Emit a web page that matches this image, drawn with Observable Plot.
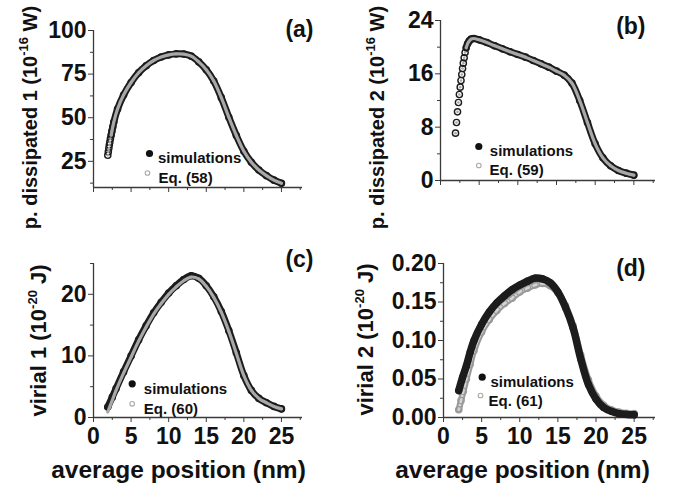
<!DOCTYPE html>
<html><head><meta charset="utf-8">
<script src="https://cdn.jsdelivr.net/npm/d3@7"></script>
<script src="https://cdn.jsdelivr.net/npm/@observablehq/plot@0.6"></script>
<style>
body{margin:0;background:#fff;}
#fig{position:relative;width:679px;height:489px;overflow:hidden;background:#fff;}
#fig svg{position:absolute;}
</style></head><body><div id="fig"></div>
<script>
// ---------- data ----------
const xDomain = [0, 27.8];
const xMajor = [0, 5, 10, 15, 20, 25];
const xMinor = [2.5, 7.5, 12.5, 17.5, 22.5, 27.5];

// (a) power dissipated 1
const aX   = [1.9, 1.97, 2.04, 2.1, 2.17, 2.25, 2.35, 2.45, 2.57, 2.7, 3.2, 4, 5, 6, 7, 8, 9, 10, 11, 12, 13, 14, 15, 16, 17, 18, 19, 20, 21, 22, 23, 24, 25];
const aSim = [28.5, 30.5, 32.5, 34.3, 36, 38, 40, 42.3, 44.8, 47.5, 55, 63, 70.2, 75.8, 79.8, 82.8, 84.8, 86, 86.6, 86.5, 85.3, 82, 77.5, 71, 61.5, 50.3, 39.8, 30.8, 24.5, 20, 16.8, 14.2, 12.4];
const aEq  = [28.5, 30.5, 32.5, 34.3, 36, 38, 40, 42.3, 44.8, 47.5, 55, 63, 70.2, 75.8, 79.8, 82.8, 84.8, 86, 86.6, 86.5, 85.3, 82, 77.5, 71, 61.5, 50.3, 39.8, 30.8, 24.5, 20, 16.8, 14.2, 12.4];

// (b) power dissipated 2
const bX   = [1.94, 2.07, 2.2, 2.32, 2.44, 2.55, 2.65, 2.75, 2.85, 2.95, 3.06, 3.18, 3.32, 3.5, 3.7, 3.95, 4.3, 5, 6, 7, 8, 9, 10, 11, 12, 13, 14, 15, 16, 17, 18, 19, 20, 21, 22, 23, 24, 25];
const bSim = [7.1, 8.7, 10.3, 11.7, 12.9, 14.0, 15.0, 15.9, 16.8, 17.6, 18.4, 19.2, 19.9, 20.5, 20.9, 21.2, 21.3, 21.1, 20.7, 20.2, 19.75, 19.3, 18.9, 18.5, 18.0, 17.5, 17.0, 16.4, 15.8, 14.6, 12.0, 8.7, 5.5, 3.4, 2.2, 1.5, 1.1, 0.8];
const bEq  = [7.1, 8.7, 10.3, 11.7, 12.9, 14.0, 15.0, 15.9, 16.8, 17.6, 18.4, 19.2, 19.9, 20.5, 20.9, 21.2, 21.3, 21.1, 20.7, 20.2, 19.75, 19.3, 18.9, 18.5, 18.0, 17.5, 17.0, 16.4, 15.8, 14.6, 12.0, 8.7, 5.5, 3.4, 2.2, 1.5, 1.1, 0.8];

// (c) virial 1
const cX   = [1.9, 2.5, 3, 4, 5, 6, 7, 8, 9, 10, 11, 12, 13, 14, 15, 16, 17, 18, 19, 20, 21, 22, 23, 24, 25];
const cSim = [1.7, 3.3, 4.7, 7.4, 10.0, 12.6, 14.9, 17.0, 18.7, 20.2, 21.4, 22.4, 23.0, 22.6, 21.4, 19.6, 17.2, 14.1, 10.5, 6.8, 4.4, 3.1, 2.4, 1.8, 1.4];
const cEq  = [0.9, 2.8, 4.4, 7.2, 9.8, 12.4, 14.7, 16.8, 18.5, 20.0, 21.2, 22.2, 22.8, 22.5, 21.3, 19.5, 17.1, 14.0, 10.4, 6.8, 4.4, 3.1, 2.4, 1.8, 1.4];

// (d) virial 2
const dX   = [2.0, 2.5, 3.0, 3.5, 4, 5, 6, 7, 8, 9, 10, 11, 12, 13, 14, 15, 16, 17, 18, 19, 20, 21, 22, 23, 24, 25];
const dSim = [0.035, 0.052, 0.067, 0.085, 0.100, 0.121, 0.137, 0.149, 0.158, 0.166, 0.172, 0.177, 0.181, 0.180, 0.175, 0.163, 0.143, 0.116, 0.076, 0.043, 0.024, 0.013, 0.008, 0.005, 0.004, 0.0035];
const dEqX = [2.0, 2.3, 2.6, 3.0, 3.5, 4, 5, 6, 7, 8, 9, 10, 11, 12, 13, 14, 15, 16, 17, 18, 19, 20, 21, 22, 23, 24, 25];
const dEq  = [0.010, 0.022, 0.034, 0.050, 0.069, 0.087, 0.111, 0.127, 0.139, 0.148, 0.155, 0.163, 0.168, 0.172, 0.174, 0.171, 0.162, 0.145, 0.119, 0.081, 0.049, 0.028, 0.016, 0.010, 0.007, 0.0055, 0.005];

const yLabels = ["p. dissipated 1 (10^-16^ W)", "p. dissipated 2 (10^-16^ W)", "virial 1 (10^-20^ J)", "virial 2 (10^-20^ J)"];
const tags = ["(a)", "(b)", "(c)", "(d)"];
const legendSim = "simulations";
const legendEq = ["Eq. (58)", "Eq. (59)", "Eq. (60)", "Eq. (61)"];
const xTitle = "average position (nm)";

// ---------- rendering ----------
const FONT = "'Liberation Sans', Arial, Helvetica, sans-serif";
const AX = "#3a3a3a";
const DARK = "#1c1c1c";
const GRAY = "#a8a8a8";

const panels = [
  {x: aX, sim: aSim, ex: aX, eq: aEq, yDomain: [10, 100], yTicks: [25, 50, 75, 100], yMinor: [12.5, 37.5, 62.5, 87.5], fmt: d => String(d), xLab: false, lineFrom: 2.3, eqUnder: false, ylSize: 20,
   box: {left: 0, top: 0, width: 340, height: 230, mL: 93, mR: 38, mT: 30, mB: 43},
   off: {yl: [-63, 8.5], tag: [11, 6], d1: [56, 123], t1: [64.5, 122], d2: [54, 142.5], t2: [65, 142]}},
  {x: bX, sim: bSim, ex: bX, eq: bEq, yDomain: [0, 24], yTicks: [0, 8, 16, 24], yMinor: [4, 12, 20], fmt: d => String(d), xLab: false, lineFrom: 3.3, eqUnder: false, ylSize: 20,
   box: {left: 340, top: 0, width: 339, height: 230, mL: 100, mR: 24, mT: 20, mB: 50},
   off: {yl: [-63, 17], tag: [-10, 13], d1: [38.3, 126], t1: [49.3, 125], d2: [38.3, 145], t2: [49, 144]}},
  {x: cX, sim: cSim, ex: cX, eq: cEq, yDomain: [0, 25], yTicks: [0, 10, 20], yMinor: [5, 15, 25], fmt: d => String(d), xLab: true, lineFrom: 0, eqUnder: false, ylSize: 22,
   box: {left: 0, top: 230, width: 340, height: 259, mL: 93, mR: 38, mT: 33, mB: 72},
   off: {yl: [-55, 0], tag: [11, 3], xl: [-19.5, 60], d1: [38.7, 120.3], t1: [50.3, 120], d2: [38.7, 140.3], t2: [50.3, 140]}},
  {x: dX, sim: dSim, ex: dEqX, eq: dEq, yDomain: [0, 0.2], yTicks: [0, 0.05, 0.1, 0.15, 0.2], yMinor: [0.025, 0.075, 0.125, 0.175], fmt: d3.format(".2f"), xLab: true, lineFrom: 0, eqUnder: true, ylSize: 22,
   box: {left: 340, top: 230, width: 339, height: 259, mL: 103, mR: 24, mT: 33, mB: 72},
   off: {yl: [-78, -1], tag: [-10, 12], xl: [-27, 60], d1: [38.7, 113.7], t1: [47, 113], d2: [37, 132], t2: [45, 132]}}
];

const fig = document.getElementById("fig");

panels.forEach((p, i) => {
  const sims = p.x.map((x, k) => ({x, y: p.sim[k]}));
  const eqs = p.ex.map((x, k) => ({x, y: p.eq[k]}));
  const o = p.off;
  const curve = "catmull-rom";

  const simMarks = p.eqUnder
    ? [Plot.line(sims, {x: "x", y: "y", stroke: DARK, strokeWidth: 7.5, curve}),
       Plot.dot(sims, {x: "x", y: "y", r: 3.6, fill: DARK})]
    : [Plot.line(sims, {filter: d => d.x >= p.lineFrom, x: "x", y: "y", stroke: DARK, strokeWidth: 7, curve}),
       Plot.dot(sims, {x: "x", y: "y", r: 3.1, stroke: DARK, strokeWidth: 1.4, fill: "none"})];
  const eqMarks = p.eqUnder
    ? [Plot.line(eqs, {x: "x", y: "y", stroke: "#9a9a9a", strokeWidth: 6.5, curve}),
       Plot.line(eqs, {x: "x", y: "y", stroke: "#d4d4d4", strokeWidth: 2.5, curve}),
       Plot.dot(eqs, {x: "x", y: "y", r: 3.2, stroke: "#9a9a9a", strokeWidth: 1.2, fill: "none"})]
    : [Plot.line(eqs, {filter: d => d.x >= p.lineFrom, x: "x", y: "y", stroke: GRAY, strokeWidth: 3.2, curve}),
       Plot.dot(eqs, {x: "x", y: "y", r: 1.3, fill: GRAY})];

  const series = p.eqUnder ? [...eqMarks, ...simMarks] : [...simMarks, ...eqMarks];

  const marks = [
    Plot.ruleX([xDomain[0]], {stroke: AX, strokeWidth: 1.3}),
    Plot.ruleY([p.yDomain[0]], {stroke: AX, strokeWidth: 1.3}),
    Plot.axisY({ticks: p.yTicks, tickSize: 5, tickPadding: 2, tickFormat: p.fmt, label: null, stroke: AX, fontSize: 23, fontWeight: "bold"}),
    Plot.axisY({ticks: p.yMinor, tickSize: 3, tickFormat: () => "", label: null, stroke: AX}),
    Plot.axisX({ticks: xMajor, tickSize: 5, tickPadding: 5, tickFormat: p.xLab ? (d => String(d)) : (() => ""), label: null, stroke: AX, fontSize: 23, fontWeight: "bold"}),
    Plot.axisX({ticks: xMinor, tickSize: 3, tickFormat: () => "", label: null, stroke: AX}),
    ...series,
    Plot.text([yLabels[i]], {text: d => d, frameAnchor: "left", rotate: -90, dx: o.yl[0], dy: o.yl[1], fontSize: p.ylSize, fontWeight: "bold", textAnchor: "middle"}),
    Plot.text([tags[i]], {text: d => d, frameAnchor: "top-right", dx: o.tag[0], dy: o.tag[1], textAnchor: "end", lineAnchor: "bottom", fontSize: 23, fontWeight: "bold"}),
    Plot.dot([legendSim], {frameAnchor: "top-left", dx: o.d1[0], dy: o.d1[1], r: 3.6, fill: "#111"}),
    Plot.text([legendSim], {text: d => d, frameAnchor: "top-left", dx: o.t1[0], dy: o.t1[1], textAnchor: "start", fontSize: 15, fontWeight: "bold"}),
    Plot.dot([legendEq[i]], {frameAnchor: "top-left", dx: o.d2[0], dy: o.d2[1], r: 2.3, stroke: "#aaa", strokeWidth: 1.1, fill: "white"}),
    Plot.text([legendEq[i]], {text: d => d, frameAnchor: "top-left", dx: o.t2[0], dy: o.t2[1], textAnchor: "start", fontSize: 15, fontWeight: "bold"})
  ];
  if (p.xLab) {
    marks.push(Plot.text([xTitle], {text: d => d, frameAnchor: "bottom", dx: o.xl[0], dy: o.xl[1], lineAnchor: "bottom", textAnchor: "middle", fontSize: 24.5, fontWeight: "bold"}));
  }

  const b = p.box;
  const svg = Plot.plot({
    width: b.width, height: b.height,
    marginLeft: b.mL, marginRight: b.mR, marginTop: b.mT, marginBottom: b.mB,
    x: {domain: xDomain},
    y: {domain: p.yDomain},
    style: {fontFamily: FONT, fontWeight: "bold", fontSize: "23px", color: "#111", background: "transparent", overflow: "visible"},
    marks
  });
  svg.style.left = b.left + "px";
  svg.style.top = b.top + "px";

  // superscripts in the axis titles
  d3.select(svg).selectAll("text").each(function () {
    const t = this.textContent;
    if (!t.includes("^")) return;
    const parts = t.split("^");
    const sel = d3.select(this);
    sel.text(null);
    sel.append("tspan").text(parts[0]);
    sel.append("tspan").attr("dy", -9).attr("font-size", 13).text(parts[1]);
    sel.append("tspan").attr("dy", 9).text(parts[2]);
  });
  fig.appendChild(svg);
});
</script>
</body></html>
